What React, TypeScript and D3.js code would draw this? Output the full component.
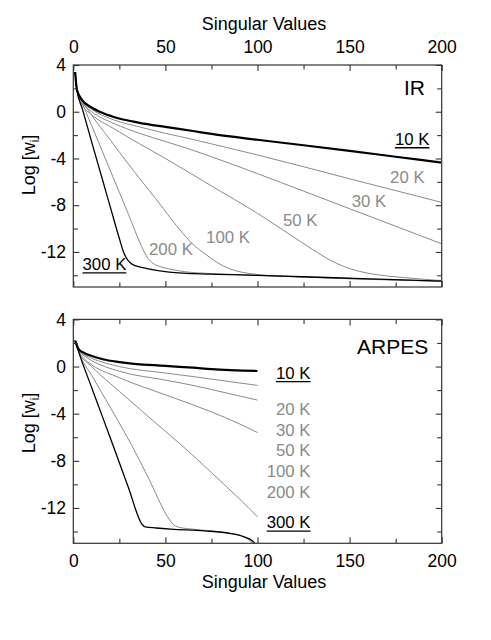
import { useEffect, useRef } from 'react';
import * as d3 from 'd3';

type Pt = [number, number];

// ── IR panel (log of singular values vs index) ──
const ir10K: Pt[] = [[1, 3.4], [2, 1.85], [5, 0.95], [9, 0.45], [15, -0.05], [22, -0.45], [36, -0.95], [50, -1.3], [65, -1.65], [75, -1.9], [100, -2.4], [125, -2.87], [150, -3.35], [175, -3.85], [200, -4.35]];
const ir20K: Pt[] = [[1, 3.4], [2, 1.85], [5, 0.85], [10, 0.2], [22, -0.7], [36, -1.3], [50, -1.85], [65, -2.37], [75, -2.75], [100, -3.7], [150, -5.74], [200, -7.76]];
const ir30K: Pt[] = [[1, 3.4], [2, 1.85], [5, 0.75], [10, 0.0], [22, -1.0], [36, -1.85], [50, -2.55], [65, -3.3], [75, -3.85], [100, -5.3], [150, -8.3], [200, -11.3]];
const ir50K: Pt[] = [[1, 3.4], [2, 1.85], [5, 0.55], [10, -0.25], [22, -1.45], [36, -2.75], [50, -4.0], [65, -5.4], [75, -6.35], [100, -8.7], [117, -10.45], [130, -11.8], [140, -12.75], [147, -13.25], [155, -13.65], [165, -13.95], [180, -14.2], [200, -14.45]];
const ir100K: Pt[] = [[1, 3.4], [2, 1.85], [5, 0.9], [10, -0.3], [20, -2.4], [30, -4.5], [45, -7.5], [60, -10.5], [66, -11.5], [71, -12.1], [78, -12.9], [85, -13.45], [92, -13.75], [101, -13.95], [125, -14.15], [150, -14.3], [200, -14.5]];
const ir200K: Pt[] = [[1, 3.4], [2, 1.85], [5, 0.7], [10, -1.2], [20, -5.0], [30, -8.8], [37, -11.5], [40.5, -12.55], [43, -12.95], [47, -13.25], [52, -13.45], [61, -13.7], [75, -13.85], [100, -14.0], [150, -14.28], [200, -14.5]];
const ir300K: Pt[] = [[1, 3.4], [2, 1.85], [5, 0.2], [10, -2.6], [15, -5.35], [20, -8.1], [25, -10.85], [27.5, -12.1], [29.6, -12.7], [31.5, -13.0], [34, -13.2], [40, -13.42], [52, -13.72], [75, -13.9], [100, -14.0], [150, -14.25], [200, -14.5]];

// ── ARPES panel ──
const ar10K: Pt[] = [[1, 2.2], [3, 1.45], [6, 1.15], [9, 0.95], [16, 0.62], [25, 0.38], [50, 0.05], [65, -0.1], [75, -0.22], [100, -0.38]];
const ar20K: Pt[] = [[1, 2.2], [3, 1.4], [6, 1.0], [10, 0.7], [25, 0.0], [50, -0.55], [65, -0.85], [75, -1.07], [100, -1.6]];
const ar30K: Pt[] = [[1, 2.2], [3, 1.35], [6, 0.9], [10, 0.5], [25, -0.4], [50, -1.15], [65, -1.6], [75, -1.95], [100, -2.85]];
const ar50K: Pt[] = [[1, 2.2], [3, 1.3], [6, 0.65], [10, 0.15], [25, -0.95], [50, -2.4], [65, -3.25], [75, -3.85], [90, -4.85], [100, -5.6]];
const ar100K: Pt[] = [[1, 2.2], [3, 1.2], [10, 0.0], [25, -2.1], [50, -5.5], [58.6, -6.65], [75, -9.0], [90, -11.2], [100, -12.75]];
const ar200K: Pt[] = [[1, 2.2], [3, 1.2], [10, -0.75], [25, -4.8], [31.5, -6.62], [40, -9.2], [52.7, -13.1], [54.5, -13.44], [58, -13.66], [65, -13.8], [75, -13.95], [85, -14.15], [92, -14.4], [96, -14.8], [100, -15.4]];
const ar300K: Pt[] = [[1, 2.2], [3, 1.2], [10, -1.8], [21.5, -6.65], [30, -10.3], [37.3, -13.38], [39, -13.6], [45, -13.7], [53, -13.8], [71, -13.94], [85, -14.15], [92.7, -14.45], [97.3, -14.8], [100, -15.3]];

const tempLabels = ['10 K', '20 K', '30 K', '50 K', '100 K', '200 K', '300 K'];
const xMajor = [0, 50, 100, 150, 200];
const xMinor = [25, 75, 125, 175];
const yMajor = [4, 0, -4, -8, -12];
const yMinor = [2, -2, -6, -10, -14];

const FONT = '"Liberation Sans", Arial, Helvetica, sans-serif';
const GRAY = '#8a8a8a';

interface PanelSpec {
  top: number;
  bottom: number;
  series: Pt[][];
  name: string;
  nameAt: Pt;
  labelAt: Pt[];
  labelAnchor: string;
  ticksOnTop: boolean;
  yLabelCenter: number;
}

export default function App() {
  const svgRef = useRef<SVGSVGElement>(null);

  useEffect(() => {
    if (!svgRef.current) return;
    const svg = d3.select(svgRef.current);
    svg.selectAll('*').remove();

    const left = 73.3;
    const right = 441.7;
    const x = d3.scaleLinear().domain([0, 200]).range([left, right]);

    const panels: PanelSpec[] = [
      {
        top: 65,
        bottom: 287,
        series: [ir10K, ir20K, ir30K, ir50K, ir100K, ir200K, ir300K],
        name: 'IR',
        nameAt: [190.9, 1.43],
        labelAt: [[174.6, -2.86], [172, -6.09], [151.1, -8.14], [113.8, -9.77], [72.1, -11.23], [41.1, -12.28], [5.0, -13.57]],
        labelAnchor: 'start',
        ticksOnTop: true,
        yLabelCenter: 165,
      },
      {
        top: 319.4,
        bottom: 543.3,
        series: [ar10K, ar20K, ar30K, ar50K, ar100K, ar200K, ar300K],
        name: 'ARPES',
        nameAt: [192.7, 1.08],
        labelAt: [[128.8, -1.06], [128.8, -4.14], [128.8, -5.86], [128.8, -7.61], [128.8, -9.35], [128.8, -11.12], [128.8, -13.74]],
        labelAnchor: 'end',
        ticksOnTop: false,
        yLabelCenter: 423,
      },
    ];

    panels.forEach((p, pi) => {
      const y = d3.scaleLinear().domain([-15, 4]).range([p.bottom, p.top]);
      const g = svg.append('g');
      const clipId = `clip-${pi}`;
      g.append('clipPath')
        .attr('id', clipId)
        .append('rect')
        .attr('x', left)
        .attr('y', p.top)
        .attr('width', right - left)
        .attr('height', p.bottom - p.top);

      // Curves (gray first, black on top)
      const line = d3
        .line<Pt>()
        .x((d) => x(d[0]))
        .y((d) => y(d[1]))
        .curve(d3.curveMonotoneX);
      const order = [1, 2, 3, 4, 5, 6, 0];
      order.forEach((i) => {
        const isBlack = i === 0 || i === 6;
        g.append('path')
          .attr('clip-path', `url(#${clipId})`)
          .attr('d', line(p.series[i]) ?? '')
          .attr('fill', 'none')
          .attr('stroke', isBlack ? '#000' : GRAY)
          .attr('stroke-width', i === 0 ? 2.2 : i === 6 ? 1.3 : 1.0)
          .attr('stroke-linejoin', 'round');
      });

      // Axes: inward ticks on all four sides
      const fmt = (d: d3.NumberValue) => String(d);
      const mk = (axis: d3.Axis<d3.NumberValue>, tr: string, showLabels: boolean, pad: number) => {
        const a = g
          .append('g')
          .attr('transform', tr)
          .call(axis.tickPadding(pad).tickFormat(showLabels ? fmt : () => ''));
        a.select('.domain').remove();
        a.selectAll('line').attr('stroke', '#333').attr('stroke-width', 1.1);
        a.selectAll('text').attr('font-size', 17.5).attr('font-family', FONT).attr('fill', '#000');
        return a;
      };
      mk(d3.axisTop(x).tickValues(xMajor).tickSize(-6), `translate(0,${p.top})`, p.ticksOnTop, 12);
      mk(d3.axisTop(x).tickValues(xMinor).tickSize(-4.5), `translate(0,${p.top})`, false, 12);
      mk(d3.axisBottom(x).tickValues(xMajor).tickSize(-6), `translate(0,${p.bottom})`, !p.ticksOnTop, 11.4);
      mk(d3.axisBottom(x).tickValues(xMinor).tickSize(-4.5), `translate(0,${p.bottom})`, false, 12);
      mk(d3.axisLeft(y).tickValues(yMajor).tickSize(-6), `translate(${left},0)`, true, 7.3);
      mk(d3.axisLeft(y).tickValues(yMinor).tickSize(-4.5), `translate(${left},0)`, false, 7);
      mk(d3.axisRight(y).tickValues(yMajor).tickSize(-6), `translate(${right},0)`, false, 7);
      mk(d3.axisRight(y).tickValues(yMinor).tickSize(-4.5), `translate(${right},0)`, false, 7);

      // Frame
      g.append('rect')
        .attr('x', left)
        .attr('y', p.top)
        .attr('width', right - left)
        .attr('height', p.bottom - p.top)
        .attr('fill', 'none')
        .attr('stroke', '#333')
        .attr('stroke-width', 1.2);

      // Panel name
      g.append('text')
        .attr('x', x(p.nameAt[0]))
        .attr('y', y(p.nameAt[1]))
        .attr('text-anchor', 'end')
        .attr('font-size', 21)
        .attr('font-family', FONT)
        .attr('fill', '#000')
        .text(p.name);

      // Temperature labels
      tempLabels.forEach((lab, i) => {
        const isBlack = i === 0 || i === 6;
        const t = g
          .append('text')
          .attr('x', x(p.labelAt[i][0]))
          .attr('y', y(p.labelAt[i][1]))
          .attr('text-anchor', p.labelAnchor)
          .attr('font-size', 16.8)
          .attr('font-family', FONT)
          .attr('fill', isBlack ? '#000' : GRAY)
          .text(lab);
        if (isBlack) {
          const bb = (t.node() as SVGTextElement).getBBox();
          const uy = y(p.labelAt[i][1]) + 2.6;
          g.append('line')
            .attr('x1', bb.x)
            .attr('x2', bb.x + bb.width)
            .attr('y1', uy)
            .attr('y2', uy)
            .attr('stroke', '#000')
            .attr('stroke-width', 1.3);
        }
      });

      // Y axis title
      const yt = g
        .append('text')
        .attr('transform', `translate(35,${p.yLabelCenter}) rotate(-90)`)
        .attr('text-anchor', 'middle')
        .attr('font-size', 18)
        .attr('font-family', FONT)
        .attr('fill', '#000');
      yt.append('tspan').text('Log [w');
      yt.append('tspan').attr('font-size', 12).attr('dy', 4).text('i');
      yt.append('tspan').attr('dy', -4).text(']');
    });

    // X axis titles
    [30, 588].forEach((by) => {
      svg
        .append('text')
        .attr('x', 264)
        .attr('y', by)
        .attr('text-anchor', 'middle')
        .attr('font-size', 18)
        .attr('font-family', FONT)
        .attr('fill', '#000')
        .text('Singular Values');
    });
  }, []);

  return (
    <svg
      ref={svgRef}
      width={491}
      height={640}
      style={{ position: 'absolute', left: 0, top: 0, background: '#fff' }}
    />
  );
}
